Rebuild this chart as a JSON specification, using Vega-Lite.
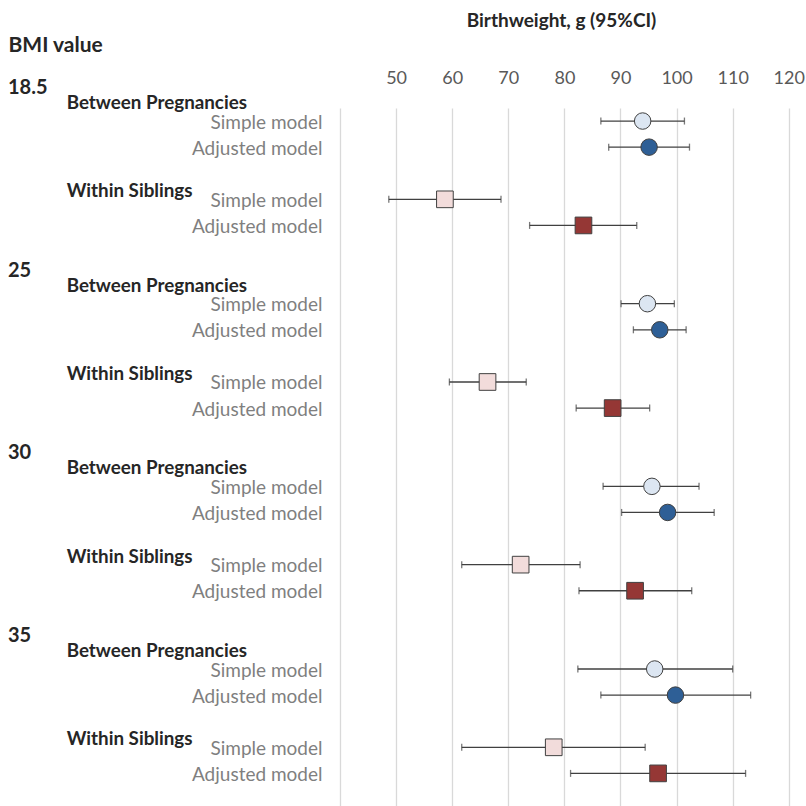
{
  "$schema": "https://vega.github.io/schema/vega-lite/v6.json",
  "autosize": "none",
  "width": 460,
  "height": 698,
  "padding": {"left": 340, "top": 108, "right": 6, "bottom": 0},
  "background": "white",
  "config": {"view": {"stroke": null}, "font": "Lato"},
  "datasets": {
    "est": [
      {"row": "18.5|Between Pregnancies|Simple model", "bmi": "18.5", "group": "Between Pregnancies", "model": "Simple model", "est": 93.95, "lo": 86.5, "hi": 101.4},
      {"row": "18.5|Between Pregnancies|Adjusted model", "bmi": "18.5", "group": "Between Pregnancies", "model": "Adjusted model", "est": 95.1, "lo": 87.9, "hi": 102.3},
      {"row": "18.5|Within Siblings|Simple model", "bmi": "18.5", "group": "Within Siblings", "model": "Simple model", "est": 58.7, "lo": 48.7, "hi": 68.7},
      {"row": "18.5|Within Siblings|Adjusted model", "bmi": "18.5", "group": "Within Siblings", "model": "Adjusted model", "est": 83.4, "lo": 73.8, "hi": 92.9},
      {"row": "25|Between Pregnancies|Simple model", "bmi": "25", "group": "Between Pregnancies", "model": "Simple model", "est": 94.8, "lo": 90.1, "hi": 99.6},
      {"row": "25|Between Pregnancies|Adjusted model", "bmi": "25", "group": "Between Pregnancies", "model": "Adjusted model", "est": 97.0, "lo": 92.3, "hi": 101.7},
      {"row": "25|Within Siblings|Simple model", "bmi": "25", "group": "Within Siblings", "model": "Simple model", "est": 66.3, "lo": 59.5, "hi": 73.2},
      {"row": "25|Within Siblings|Adjusted model", "bmi": "25", "group": "Within Siblings", "model": "Adjusted model", "est": 88.6, "lo": 82.1, "hi": 95.2},
      {"row": "30|Between Pregnancies|Simple model", "bmi": "30", "group": "Between Pregnancies", "model": "Simple model", "est": 95.6, "lo": 86.9, "hi": 104.0},
      {"row": "30|Between Pregnancies|Adjusted model", "bmi": "30", "group": "Between Pregnancies", "model": "Adjusted model", "est": 98.4, "lo": 90.2, "hi": 106.7},
      {"row": "30|Within Siblings|Simple model", "bmi": "30", "group": "Within Siblings", "model": "Simple model", "est": 72.2, "lo": 61.7, "hi": 82.8},
      {"row": "30|Within Siblings|Adjusted model", "bmi": "30", "group": "Within Siblings", "model": "Adjusted model", "est": 92.6, "lo": 82.6, "hi": 102.7},
      {"row": "35|Between Pregnancies|Simple model", "bmi": "35", "group": "Between Pregnancies", "model": "Simple model", "est": 96.1, "lo": 82.4, "hi": 110.0},
      {"row": "35|Between Pregnancies|Adjusted model", "bmi": "35", "group": "Between Pregnancies", "model": "Adjusted model", "est": 99.8, "lo": 86.5, "hi": 113.2},
      {"row": "35|Within Siblings|Simple model", "bmi": "35", "group": "Within Siblings", "model": "Simple model", "est": 78.1, "lo": 61.7, "hi": 94.4},
      {"row": "35|Within Siblings|Adjusted model", "bmi": "35", "group": "Within Siblings", "model": "Adjusted model", "est": 96.7, "lo": 81.1, "hi": 112.3}
    ],
    "hdr": [
      {"row": "18.5|Between Pregnancies|Simple model", "text": "18.5", "kind": "bmi"},
      {"row": "18.5|Between Pregnancies|Simple model", "text": "Between Pregnancies", "kind": "bp"},
      {"row": "18.5|Within Siblings|Simple model", "text": "Within Siblings", "kind": "ws"},
      {"row": "25|Between Pregnancies|Simple model", "text": "25", "kind": "bmi"},
      {"row": "25|Between Pregnancies|Simple model", "text": "Between Pregnancies", "kind": "bp"},
      {"row": "25|Within Siblings|Simple model", "text": "Within Siblings", "kind": "ws"},
      {"row": "30|Between Pregnancies|Simple model", "text": "30", "kind": "bmi"},
      {"row": "30|Between Pregnancies|Simple model", "text": "Between Pregnancies", "kind": "bp"},
      {"row": "30|Within Siblings|Simple model", "text": "Within Siblings", "kind": "ws"},
      {"row": "35|Between Pregnancies|Simple model", "text": "35", "kind": "bmi"},
      {"row": "35|Between Pregnancies|Simple model", "text": "Between Pregnancies", "kind": "bp"},
      {"row": "35|Within Siblings|Simple model", "text": "Within Siblings", "kind": "ws"}
    ]
  },
  "encoding": {
    "y": {
      "field": "row",
      "type": "nominal",
      "sort": null,
      "scale": {
        "type": "band",
        "domain": [
          "18.5|Between Pregnancies|Simple model", "18.5|Between Pregnancies|Adjusted model", "gap1",
          "18.5|Within Siblings|Simple model", "18.5|Within Siblings|Adjusted model", "gap2", "gap3",
          "25|Between Pregnancies|Simple model", "25|Between Pregnancies|Adjusted model", "gap4",
          "25|Within Siblings|Simple model", "25|Within Siblings|Adjusted model", "gap5", "gap6",
          "30|Between Pregnancies|Simple model", "30|Between Pregnancies|Adjusted model", "gap7",
          "30|Within Siblings|Simple model", "30|Within Siblings|Adjusted model", "gap8", "gap9",
          "35|Between Pregnancies|Simple model", "35|Between Pregnancies|Adjusted model", "gap10",
          "35|Within Siblings|Simple model", "35|Within Siblings|Adjusted model"
        ],
        "paddingInner": 0,
        "paddingOuter": 0.375,
        "align": 0
      },
      "axis": {
        "orient": "left",
        "domain": false,
        "ticks": false,
        "grid": false,
        "labelExpr": "length(split(datum.value, '|')) > 2 ? split(datum.value, '|')[2] : ''",
        "labelPadding": 18,
        "labelOffset": 1.5,
        "labelFont": "Lato",
        "labelFontSize": 19,
        "labelColor": "#7f7f7f",
        "labelAlign": "right",
        "title": "BMI value",
        "titleAngle": 0,
        "titleX": -332,
        "titleY": -63,
        "titleAlign": "left",
        "titleBaseline": "middle",
        "titleFont": "Lato",
        "titleFontSize": 21,
        "titleFontWeight": "bold",
        "titleColor": "#262626"
      }
    }
  },
  "layer": [
    {
      "data": {"name": "est"},
      "mark": {"type": "rule", "color": "#404040", "strokeWidth": 1.3},
      "encoding": {
        "x": {
          "field": "lo",
          "type": "quantitative",
          "scale": {"domain": [40, 122], "nice": false, "zero": false},
          "axis": {
            "orient": "top",
            "values": [40, 50, 60, 70, 80, 90, 100, 110, 120],
            "labelExpr": "datum.value == 40 ? '' : datum.label",
            "grid": true,
            "gridColor": "#d9d9d9",
            "gridWidth": 1.3,
            "domain": false,
            "ticks": false,
            "tickSize": 0,
            "labelPadding": 30,
            "labelBaseline": "middle",
            "labelFont": "Lato",
            "labelFontSize": 18,
            "labelColor": "#595959",
            "title": "Birthweight, g (95%CI)",
            "titleX": 221,
            "titleY": -88,
            "titleBaseline": "middle",
            "titleFont": "Lato",
            "titleFontSize": 19,
            "titleFontWeight": "bold",
            "titleColor": "#262626"
          }
        },
        "x2": {"field": "hi"}
      }
    },
    {
      "data": {"name": "est"},
      "mark": {"type": "tick", "color": "#404040", "thickness": 1.3, "size": 7},
      "encoding": {"x": {"field": "lo", "type": "quantitative"}}
    },
    {
      "data": {"name": "est"},
      "mark": {"type": "tick", "color": "#404040", "thickness": 1.3, "size": 7},
      "encoding": {"x": {"field": "hi", "type": "quantitative"}}
    },
    {
      "data": {"name": "est"},
      "transform": [{"filter": "datum.group == 'Between Pregnancies' && datum.model == 'Simple model'"}],
      "mark": {"type": "point", "shape": "circle", "filled": true, "fill": "#dce6f2", "stroke": "#404040", "strokeWidth": 1, "size": 272, "opacity": 1},
      "encoding": {"x": {"field": "est", "type": "quantitative"}}
    },
    {
      "data": {"name": "est"},
      "transform": [{"filter": "datum.group == 'Between Pregnancies' && datum.model == 'Adjusted model'"}],
      "mark": {"type": "point", "shape": "circle", "filled": true, "fill": "#2e5f96", "stroke": "#404040", "strokeWidth": 1, "size": 272, "opacity": 1},
      "encoding": {"x": {"field": "est", "type": "quantitative"}}
    },
    {
      "data": {"name": "est"},
      "transform": [{"filter": "datum.group == 'Within Siblings' && datum.model == 'Simple model'"}],
      "mark": {"type": "point", "shape": "square", "filled": true, "fill": "#f2dcdb", "stroke": "#404040", "strokeWidth": 1, "size": 278, "opacity": 1},
      "encoding": {"x": {"field": "est", "type": "quantitative"}}
    },
    {
      "data": {"name": "est"},
      "transform": [{"filter": "datum.group == 'Within Siblings' && datum.model == 'Adjusted model'"}],
      "mark": {"type": "point", "shape": "square", "filled": true, "fill": "#953735", "stroke": "#404040", "strokeWidth": 1, "size": 278, "opacity": 1},
      "encoding": {"x": {"field": "est", "type": "quantitative"}}
    },
    {
      "data": {"name": "hdr"},
      "transform": [{"filter": "datum.kind == 'bmi'"}],
      "mark": {"type": "text", "align": "left", "baseline": "middle", "dy": -33, "font": "Lato", "fontSize": 20, "fontWeight": "bold", "color": "#262626"},
      "encoding": {"x": {"datum": -19.18, "type": "quantitative"}, "text": {"field": "text"}}
    },
    {
      "data": {"name": "hdr"},
      "transform": [{"filter": "datum.kind == 'bp'"}],
      "mark": {"type": "text", "align": "left", "baseline": "middle", "dy": -18, "font": "Lato", "fontSize": 18.8, "fontWeight": "bold", "color": "#262626"},
      "encoding": {"x": {"datum": -8.72, "type": "quantitative"}, "text": {"field": "text"}}
    },
    {
      "data": {"name": "hdr"},
      "transform": [{"filter": "datum.kind == 'ws'"}],
      "mark": {"type": "text", "align": "left", "baseline": "middle", "dy": -8, "font": "Lato", "fontSize": 18.8, "fontWeight": "bold", "color": "#262626"},
      "encoding": {"x": {"datum": -8.72, "type": "quantitative"}, "text": {"field": "text"}}
    }
  ]
}
